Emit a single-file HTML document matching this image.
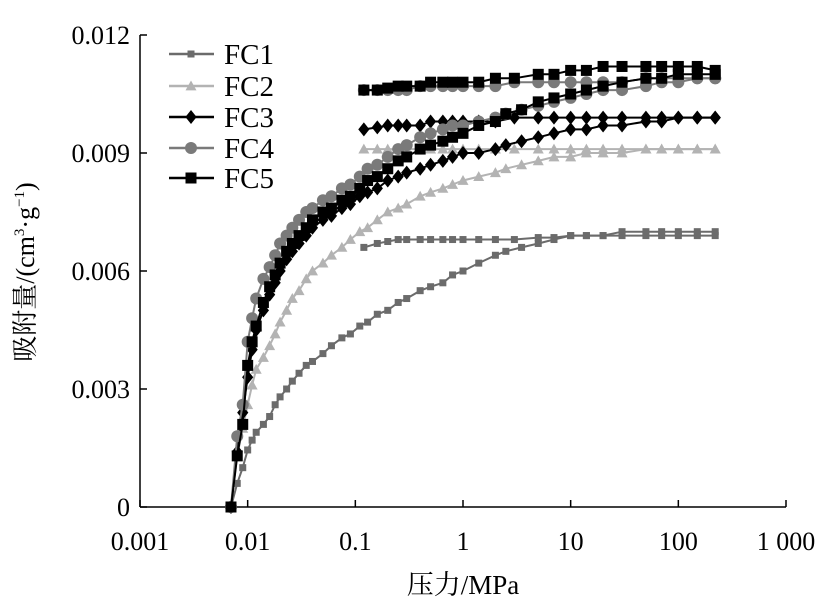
<!DOCTYPE html>
<html><head><meta charset="utf-8"><style>
body{margin:0;background:#fff}
svg{display:block}
text{font-family:"Liberation Serif","Noto Serif CJK SC",serif;fill:#000}
</style></head><body>
<svg id="chart" width="822" height="610" viewBox="0 0 822 610">
<g id="axes"></g>
<g id="series"></g>
<g id="legend"></g>
<text x="463" y="594" font-size="27" text-anchor="middle">压力/MPa</text>
<text transform="translate(34,272) rotate(-90)" font-size="26" text-anchor="middle">吸附量/(cm<tspan font-size="15" dy="-10">3</tspan><tspan dy="10">·g</tspan><tspan font-size="15" dy="-10">−1</tspan><tspan dy="10">)</tspan></text>
</svg>
<script>
const xTickVals=[0.001,0.01,0.1,1,10,100,1000];
const xTickLabels=["0.001","0.01","0.1","1","10","100","1 000"];
const yTickVals=[0,0.003,0.006,0.009,0.012];
const yTickLabels=["0","0.003","0.006","0.009","0.012"];
const seriesNames=["FC1","FC2","FC3","FC4","FC5"];
const adsP=[0.007,0.008,0.009,0.01,0.011,0.012,0.014,0.016,0.018,0.02,0.023,0.026,0.03,0.035,0.04,0.05,0.06,0.075,0.09,0.11,0.13,0.16,0.2,0.25,0.3,0.4,0.5,0.65,0.8,1,1.4,2,2.5,3.5,5,7,10,14,20,30,50,70,100,150,220];
const desP=[0.12,0.16,0.2,0.25,0.3,0.4,0.5,0.65,0.8,1,1.4,2,3,5,7,10,14,20,30,50,70,100,150,220];
const fc1Ads=[0,0.0006,0.001,0.00145,0.0017,0.0019,0.0021,0.0023,0.0026,0.0028,0.003,0.0032,0.0034,0.0036,0.0037,0.0039,0.0041,0.0043,0.0044,0.0046,0.0047,0.0049,0.005,0.0052,0.0053,0.0055,0.0056,0.0057,0.0059,0.006,0.0062,0.0064,0.0065,0.0066,0.0067,0.0068,0.0069,0.0069,0.0069,0.007,0.007,0.007,0.007,0.007,0.007];
const fc1Des=[0.0066,0.0067,0.00675,0.0068,0.0068,0.0068,0.0068,0.0068,0.0068,0.0068,0.0068,0.0068,0.0068,0.00685,0.00685,0.0069,0.0069,0.0069,0.0069,0.0069,0.0069,0.0069,0.0069,0.0069];
const fc2Ads=[0,0.0013,0.002,0.0026,0.0031,0.0035,0.0038,0.0041,0.0044,0.0047,0.005,0.0053,0.0055,0.0058,0.006,0.0062,0.0064,0.0066,0.0068,0.007,0.0071,0.0073,0.0075,0.0076,0.0077,0.0079,0.008,0.0081,0.0082,0.0083,0.0084,0.0085,0.0086,0.0087,0.0088,0.0089,0.0089,0.009,0.009,0.009,0.0091,0.0091,0.0091,0.0091,0.0091];
const fc2Des=[0.0091,0.0091,0.0091,0.0091,0.0091,0.0091,0.0091,0.0091,0.0091,0.0091,0.0091,0.0091,0.0091,0.0091,0.0091,0.0091,0.0091,0.0091,0.0091,0.0091,0.0091,0.0091,0.0091,0.0091];
const fc3Ads=[0,0.0014,0.0024,0.0033,0.004,0.0045,0.005,0.0054,0.0057,0.006,0.0063,0.0065,0.0067,0.0069,0.0071,0.0073,0.0074,0.0076,0.0077,0.0079,0.008,0.0081,0.0083,0.0084,0.0085,0.0086,0.0087,0.0088,0.0089,0.009,0.009,0.0091,0.0092,0.0093,0.0094,0.0095,0.0096,0.0096,0.0097,0.0097,0.0098,0.0098,0.0099,0.0099,0.0099];
const fc3Des=[0.0096,0.00965,0.0097,0.0097,0.0097,0.0097,0.0098,0.0098,0.0098,0.0098,0.0098,0.0098,0.0099,0.0099,0.0099,0.0099,0.0099,0.0099,0.0099,0.0099,0.0099,0.0099,0.0099,0.0099];
const fc4Ads=[0,0.0018,0.0026,0.0042,0.0048,0.0053,0.0058,0.0061,0.0064,0.0067,0.0069,0.0071,0.0073,0.0075,0.0076,0.0078,0.0079,0.0081,0.0082,0.0084,0.0086,0.0087,0.0089,0.0091,0.0092,0.0094,0.0095,0.0096,0.0097,0.0097,0.0098,0.0099,0.01,0.0101,0.0102,0.0103,0.0104,0.0105,0.0106,0.0106,0.0107,0.0108,0.0108,0.0109,0.0109];
const fc4Des=[0.0106,0.0106,0.0106,0.0106,0.0106,0.0107,0.0107,0.0107,0.0107,0.0107,0.0107,0.0107,0.0108,0.0108,0.0108,0.0108,0.0108,0.0108,0.0108,0.0109,0.0109,0.0109,0.0109,0.0109];
const fc5Ads=[0,0.0013,0.0021,0.0036,0.0042,0.0046,0.0052,0.0056,0.0059,0.0062,0.0065,0.0067,0.0069,0.0071,0.0073,0.0075,0.0076,0.0078,0.0079,0.0081,0.0083,0.0084,0.0086,0.0088,0.0089,0.0091,0.0092,0.0093,0.0094,0.0095,0.0097,0.0098,0.01,0.0101,0.0103,0.0104,0.0105,0.0106,0.0107,0.0108,0.0109,0.0109,0.011,0.011,0.011];
const fc5Des=[0.0106,0.0106,0.01065,0.0107,0.0107,0.0107,0.0108,0.0108,0.0108,0.0108,0.0108,0.0109,0.0109,0.011,0.011,0.0111,0.0111,0.0112,0.0112,0.0112,0.0112,0.0112,0.0112,0.0111];

const NS="http://www.w3.org/2000/svg";
const X0=140,X1=786,Y0=507,Y1=35;
function xs(p){return X0+(X1-X0)*(Math.log10(p)+3)/6;}
function ys(v){return Y0-(Y0-Y1)*v/0.012;}
function mk(tag,attrs,parent){const e=document.createElementNS(NS,tag);for(const k in attrs)e.setAttribute(k,attrs[k]);parent.appendChild(e);return e;}
const axes=document.getElementById('axes');
let e=mk('line',{x1:X0,y1:Y1,x2:X0,y2:Y0,stroke:'#000','stroke-width':1.5},axes);


e=mk('line',{x1:X0,y1:Y0,x2:X1,y2:Y0,stroke:'#000','stroke-width':1.5},axes);


xTickVals.forEach((v,i)=>{
 const t=mk('line',{x1:xs(v),y1:Y0,x2:xs(v),y2:Y0-7,stroke:'#000','stroke-width':1.5},axes);
 
 
 const l=mk('text',{x:xs(v),y:Y0+43,'font-size':26,'text-anchor':'middle'},axes);
 l.textContent=xTickLabels[i];
 
 
});
yTickVals.forEach((v,i)=>{
 const t=mk('line',{x1:X0,y1:ys(v),x2:X0+7,y2:ys(v),stroke:'#000','stroke-width':1.5},axes);
 
 
 const l=mk('text',{x:X0-10,y:ys(v)+9,'font-size':26,'text-anchor':'end'},axes);
 l.textContent=yTickLabels[i];
 
 
});
const styles=[
 {color:'#6b6b6b',shape:'square',size:7},
 {color:'#b3b3b3',shape:'tri',size:11},
 {color:'#000',shape:'diamond',size:14},
 {color:'#7a7a7a',shape:'circle',size:12},
 {color:'#000',shape:'square',size:11}];
const adsData=[fc1Ads,fc2Ads,fc3Ads,fc4Ads,fc5Ads];
const desData=[fc1Des,fc2Des,fc3Des,fc4Des,fc5Des];
function marker(g,x,y,s){
 const h=s.size/2;let m;
 if(s.shape==='square')m=mk('rect',{x:x-h,y:y-h,width:s.size,height:s.size,fill:s.color},g);
 else if(s.shape==='circle')m=mk('circle',{cx:x,cy:y,r:h,fill:s.color},g);
 else if(s.shape==='tri')m=mk('polygon',{points:`${x},${y-h} ${x-h},${y+h*0.8} ${x+h},${y+h*0.8}`,fill:s.color},g);
 else m=mk('polygon',{points:`${x},${y-h} ${x+h*0.8},${y} ${x},${y+h} ${x-h*0.8},${y}`,fill:s.color},g);
 return m;
}
const sg=document.getElementById('series');
[0,1,2,3,4].forEach(i=>{
 const s=styles[i];
 [[adsP,adsData[i],'adsorption'],[desP,desData[i],'desorption']].forEach(([P,V,kind])=>{
  const g=mk('g',{},sg);
  
  
  const pts=P.map((p,j)=>xs(p).toFixed(1)+','+ys(V[j]).toFixed(1)).join(' ');
  const pl=mk('polyline',{points:pts,fill:'none',stroke:s.color,'stroke-width':2},g);
  
  
  P.forEach((p,j)=>{
   const m=marker(g,xs(p),ys(V[j]),s);
   
   
  });
 });
});
const lg=document.getElementById('legend');
const legY=[54,86,117,148,178];
seriesNames.forEach((n,i)=>{
 const s=styles[i];
 const g=mk('g',{},lg);
 
 
 mk('line',{x1:169,y1:legY[i],x2:214,y2:legY[i],stroke:s.color,'stroke-width':2.5},g);
 marker(g,191,legY[i],s);
 const t=mk('text',{x:224,y:legY[i]+10,'font-size':29},g);
 t.textContent=n;
});
</script>
</body></html>
